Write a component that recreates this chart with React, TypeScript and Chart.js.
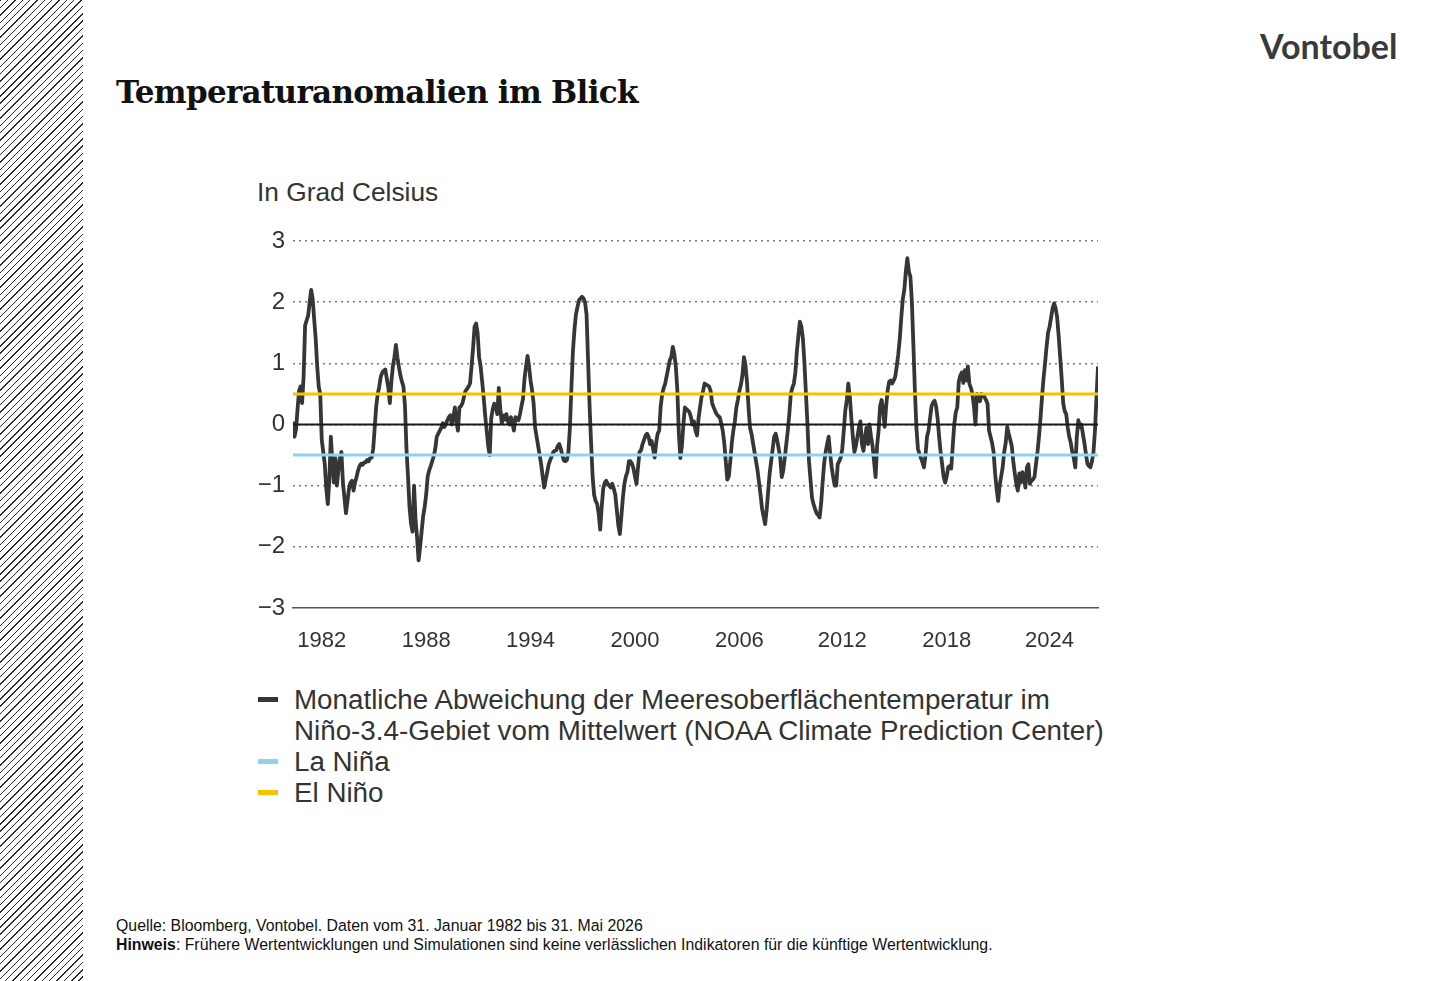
import { useEffect, useRef } from "react";
import { Chart, registerables } from "chart.js";

Chart.register(...registerables);

// ---- Data: monthly Niño-3.4 SST anomaly (°C), Jan 1982 – May 2026 ----
const Y1982 = [0.05, -0.2, -0.08, 0.25, 0.55, 0.62, 0.35, 0.78, 1.62, 1.7, 1.78, 2.0];
const Y1983 = [2.2, 2.05, 1.72, 1.4, 0.95, 0.62, 0.5, -0.25, -0.45, -0.65, -1.05, -1.3];
const Y1984 = [-0.9, -0.2, -0.6, -0.95, -0.55, -1.0, -0.75, -0.55, -0.45, -0.95, -1.2, -1.45];
const Y1985 = [-1.25, -1.05, -0.95, -0.92, -1.08, -0.95, -0.86, -0.75, -0.68, -0.64, -0.66, -0.62];
const Y1986 = [-0.62, -0.58, -0.6, -0.55, -0.54, -0.4, -0.05, 0.3, 0.5, 0.62, 0.78, 0.85];
const Y1987 = [0.88, 0.9, 0.75, 0.6, 0.35, 0.7, 0.95, 1.1, 1.3, 1.1, 0.94, 0.8];
const Y1988 = [0.7, 0.62, 0.3, -0.4, -0.85, -1.35, -1.62, -1.75, -1.0, -1.55, -1.85, -2.22];
const Y1989 = [-2.0, -1.75, -1.5, -1.35, -1.15, -0.85, -0.75, -0.68, -0.6, -0.52, -0.4, -0.2];
const Y1990 = [-0.15, -0.1, -0.05, 0.02, -0.04, 0.0, 0.07, 0.12, 0.15, 0.0, 0.12, 0.28];
const Y1991 = [0.05, -0.1, 0.28, 0.3, 0.35, 0.45, 0.55, 0.58, 0.62, 0.67, 0.95, 1.25];
const Y1992 = [1.6, 1.65, 1.5, 1.1, 0.95, 0.7, 0.45, 0.15, -0.1, -0.35, -0.5, 0.1];
const Y1993 = [0.25, 0.34, 0.3, 0.17, 0.6, 0.25, 0.02, 0.15, 0.08, 0.17, 0.05, 0.0];
const Y1994 = [0.12, 0.02, -0.1, 0.12, 0.1, 0.07, 0.17, 0.3, 0.42, 0.75, 0.95, 1.12];
const Y1995 = [0.95, 0.72, 0.56, 0.35, -0.05, -0.2, -0.35, -0.5, -0.65, -0.85, -1.03, -0.9];
const Y1996 = [-0.78, -0.65, -0.58, -0.52, -0.45, -0.43, -0.42, -0.35, -0.32, -0.4, -0.5, -0.59];
const Y1997 = [-0.6, -0.58, -0.45, -0.05, 0.6, 1.2, 1.55, 1.8, 1.92, 2.03, 2.06, 2.09];
const Y1998 = [2.06, 2.0, 1.8, 1.05, 0.3, -0.3, -0.85, -1.15, -1.25, -1.3, -1.45, -1.72];
const Y1999 = [-1.35, -1.05, -0.95, -0.92, -0.97, -1.0, -1.03, -0.97, -1.05, -1.15, -1.4, -1.65];
const Y2000 = [-1.79, -1.5, -1.2, -0.97, -0.85, -0.78, -0.6, -0.6, -0.64, -0.72, -0.85, -0.97];
const Y2001 = [-0.7, -0.45, -0.42, -0.32, -0.25, -0.18, -0.15, -0.2, -0.32, -0.27, -0.4, -0.54];
const Y2002 = [-0.3, -0.15, -0.1, 0.3, 0.5, 0.6, 0.67, 0.8, 0.92, 1.05, 1.1, 1.27];
const Y2003 = [1.15, 0.95, 0.56, -0.15, -0.55, -0.35, 0.0, 0.28, 0.25, 0.23, 0.2, 0.12];
const Y2004 = [0.0, 0.05, -0.1, -0.18, 0.1, 0.28, 0.45, 0.55, 0.67, 0.65, 0.64, 0.62];
const Y2005 = [0.55, 0.35, 0.28, 0.22, 0.17, 0.14, 0.12, 0.02, -0.1, -0.3, -0.6, -0.9];
const Y2006 = [-0.85, -0.6, -0.3, -0.1, 0.05, 0.28, 0.4, 0.55, 0.65, 0.8, 1.1, 0.98];
const Y2007 = [0.7, 0.3, -0.05, -0.15, -0.3, -0.45, -0.6, -0.75, -0.95, -1.15, -1.38, -1.5];
const Y2008 = [-1.63, -1.4, -1.1, -0.8, -0.6, -0.4, -0.2, -0.15, -0.26, -0.4, -0.54, -0.86];
const Y2009 = [-0.75, -0.55, -0.32, -0.1, 0.17, 0.5, 0.6, 0.67, 0.85, 1.2, 1.45, 1.68];
const Y2010 = [1.6, 1.4, 1.0, 0.5, 0.0, -0.6, -0.9, -1.2, -1.3, -1.38, -1.45, -1.48];
const Y2011 = [-1.52, -1.3, -0.95, -0.64, -0.45, -0.32, -0.2, -0.48, -0.7, -0.86, -1.0, -1.0];
const Y2012 = [-0.65, -0.6, -0.54, -0.4, -0.1, 0.23, 0.4, 0.67, 0.45, 0.1, -0.2, -0.45];
const Y2013 = [-0.35, -0.2, -0.05, 0.05, -0.32, -0.43, -0.2, -0.05, -0.32, 0.0, -0.2, -0.35];
const Y2014 = [-0.6, -0.86, -0.35, -0.1, 0.3, 0.4, 0.23, -0.04, 0.3, 0.56, 0.7, 0.72];
const Y2015 = [0.67, 0.72, 0.78, 0.95, 1.15, 1.4, 1.75, 2.05, 2.2, 2.5, 2.72, 2.5];
const Y2016 = [2.42, 2.0, 1.3, 0.55, -0.05, -0.4, -0.48, -0.55, -0.62, -0.7, -0.5, -0.2];
const Y2017 = [-0.1, 0.1, 0.3, 0.36, 0.39, 0.3, 0.1, -0.2, -0.45, -0.65, -0.86, -0.95];
const Y2018 = [-0.85, -0.7, -0.68, -0.72, -0.35, 0.0, 0.2, 0.28, 0.7, 0.8, 0.85, 0.68];
const Y2019 = [0.89, 0.72, 0.95, 0.67, 0.6, 0.5, 0.3, 0.0, 0.5, 0.42, 0.38, 0.5];
const Y2020 = [0.48, 0.45, 0.4, 0.34, -0.1, -0.2, -0.3, -0.45, -0.8, -1.05, -1.25, -1.0];
const Y2021 = [-0.85, -0.7, -0.45, -0.3, -0.04, -0.15, -0.25, -0.35, -0.6, -0.8, -0.97, -1.08];
const Y2022 = [-0.8, -0.95, -0.78, -0.85, -1.03, -0.7, -0.65, -0.97, -0.92, -0.9, -0.86, -0.65];
const Y2023 = [-0.45, -0.2, 0.1, 0.45, 0.75, 1.0, 1.27, 1.5, 1.6, 1.75, 1.9, 1.98];
const Y2024 = [1.9, 1.75, 1.45, 1.1, 0.75, 0.35, 0.22, 0.17, -0.05, -0.2, -0.3, -0.45];
const Y2025 = [-0.55, -0.7, -0.2, 0.07, -0.04, 0.0, -0.15, -0.3, -0.48, -0.64, -0.68, -0.7];
const Y2026 = [-0.6, -0.45, -0.1, 0.45, 0.95];

const NINO34 = [
  ...Y1982, ...Y1983, ...Y1984, ...Y1985, ...Y1986, ...Y1987, ...Y1988, ...Y1989,
  ...Y1990, ...Y1991, ...Y1992, ...Y1993, ...Y1994, ...Y1995, ...Y1996, ...Y1997,
  ...Y1998, ...Y1999, ...Y2000, ...Y2001, ...Y2002, ...Y2003, ...Y2004, ...Y2005,
  ...Y2006, ...Y2007, ...Y2008, ...Y2009, ...Y2010, ...Y2011, ...Y2012, ...Y2013,
  ...Y2014, ...Y2015, ...Y2016, ...Y2017, ...Y2018, ...Y2019, ...Y2020, ...Y2021,
  ...Y2022, ...Y2023, ...Y2024, ...Y2025, ...Y2026,
];

const EL_NINO = 0.5;
const LA_NINA = -0.5;
const ZERO_LINE = 0;

const Y_TICKS = [-3, -2, -1, 0, 1, 2, 3];
const X_TICK_LABELS = ["1982", "1988", "1994", "2000", "2006", "2012", "2018", "2024"];
// month index (from Jan 1982) at which each year label sits in the reference
const X_TICK_MONTHS = [19, 88, 157, 226, 295, 363, 432, 500];

const SERIES_LABEL_1 = "Monatliche Abweichung der Meeresoberflächentemperatur im";
const SERIES_LABEL_2 = "Niño-3.4-Gebiet vom Mittelwert (NOAA Climate Prediction Center)";
const LA_NINA_LABEL = "La Niña";
const EL_NINO_LABEL = "El Niño";

const C_SERIES = "#363636";
const C_ZERO = "#1a1a1a";
const C_YELLOW = "#F4C400";
const C_BLUE = "#8ED3E8";
const C_TEXT = "#333333";

export default function App() {
  const ref = useRef<HTMLCanvasElement>(null);

  useEffect(() => {
    const canvas = ref.current;
    if (!canvas) return;
    const last = NINO34.length - 1;
    const series = NINO34.map((v, i) => ({ x: i, y: v }));
    const flat = (v: number) => [
      { x: 0, y: v },
      { x: last, y: v },
    ];
    const chart = new Chart(canvas, {
      type: "line",
      data: {
        datasets: [
          { label: "0", data: flat(ZERO_LINE), borderColor: C_ZERO, borderWidth: 2.2, pointRadius: 0, order: 0 },
          { label: EL_NINO_LABEL, data: flat(EL_NINO), borderColor: C_YELLOW, borderWidth: 3, pointRadius: 0, order: 1 },
          { label: LA_NINA_LABEL, data: flat(LA_NINA), borderColor: C_BLUE, borderWidth: 3, pointRadius: 0, order: 2 },
          {
            label: SERIES_LABEL_1 + " " + SERIES_LABEL_2,
            data: series,
            borderColor: C_SERIES,
            borderWidth: 3.8,
            pointRadius: 0,
            tension: 0,
            borderJoinStyle: "round",
            order: 3,
          },
        ],
      },
      options: {
        animation: false,
        responsive: false,
        maintainAspectRatio: false,
        devicePixelRatio: 1,
        layout: { padding: { top: 71, right: 12, left: 0, bottom: 0 } },
        plugins: { legend: { display: false }, tooltip: { enabled: false }, title: { display: false } },
        scales: {
          x: {
            type: "linear",
            min: 0,
            max: last,
            afterBuildTicks: (s: any) => {
              s.ticks = X_TICK_MONTHS.map((v) => ({ value: v }));
            },
            afterFit: (s: any) => {
              s.height = 52;
            },
            ticks: {
              autoSkip: false,
              maxRotation: 0,
              padding: 20,
              color: C_TEXT,
              font: { family: "'Liberation Sans', Arial, sans-serif", size: 22 },
              callback: (v: any) => {
                const i = X_TICK_MONTHS.indexOf(Number(v));
                return i >= 0 ? X_TICK_LABELS[i] : "";
              },
            },
            grid: { display: false, drawTicks: false },
            border: { display: true, color: "#555555", width: 1.5 },
          },
          y: {
            min: -3,
            max: 3,
            afterBuildTicks: (s: any) => {
              s.ticks = Y_TICKS.map((v) => ({ value: v }));
            },
            afterFit: (s: any) => {
              s.width = 43;
            },
            ticks: {
              padding: 8,
              color: C_TEXT,
              font: { family: "'Liberation Sans', Arial, sans-serif", size: 24 },
              callback: (v: any) => (Number(v) < 0 ? "\u2212" + Math.abs(Number(v)) : String(v)),
            },
            grid: {
              drawTicks: false,
              lineWidth: 1.5,
              color: (ctx: any) => (ctx.tick && ctx.tick.value === -3 ? "rgba(0,0,0,0)" : "#7a7a7a"),
            },
            border: { display: false, dash: [2, 4] },
          },
        },
      },
    } as any);
    return () => chart.destroy();
  }, []);

  const sans = "'Liberation Sans', Arial, sans-serif";

  const legendRow = (color: string, lines: string[], top: number) => (
    <div style={{ position: "absolute", left: 258, top, fontFamily: sans, fontSize: 27.75, lineHeight: "31px", color: C_TEXT, whiteSpace: "nowrap" }}>
      <div style={{ position: "absolute", left: 0, top: 13, width: 20, height: 5, background: color }} />
      <div style={{ marginLeft: 36 }}>
        {lines.map((l, i) => (
          <div key={i}>{l}</div>
        ))}
      </div>
    </div>
  );

  return (
    <div style={{ position: "absolute", left: 0, top: 0, width: 1440, height: 981, background: "#ffffff", overflow: "hidden" }}>
      <div
        style={{
          position: "absolute",
          left: 0,
          top: 0,
          width: 83,
          height: 981,
          background: "repeating-linear-gradient(135deg, #2a2a2a 0px, #2a2a2a 1px, #ffffff 1px, #ffffff 5.2px)",
        }}
      />
      <div
        style={{
          position: "absolute",
          left: 116,
          top: 77,
          fontFamily: "'DejaVu Serif', serif",
          fontWeight: 700,
          fontSize: 31,
          letterSpacing: "-0.7px",
          lineHeight: 1,
          color: "#111",
          whiteSpace: "nowrap",
        }}
      >
        Temperaturanomalien im Blick
      </div>
      <div
        style={{
          position: "absolute",
          left: 1260,
          top: 29,
          fontFamily: "Lato, sans-serif",
          fontWeight: 700,
          fontSize: 34,
          lineHeight: 1,
          color: "#3a3a3a",
          whiteSpace: "nowrap",
        }}
      >
        Vontobel
      </div>
      <div style={{ position: "absolute", left: 257, top: 177, fontFamily: sans, fontSize: 26.3, lineHeight: "30px", color: C_TEXT, whiteSpace: "nowrap" }}>
        In Grad Celsius
      </div>
      <canvas ref={ref} width={860} height={490} style={{ position: "absolute", left: 250, top: 170, width: 860, height: 490 }} />
      {legendRow(C_SERIES, [SERIES_LABEL_1, SERIES_LABEL_2], 684)}
      {legendRow(C_BLUE, [LA_NINA_LABEL], 746)}
      {legendRow(C_YELLOW, [EL_NINO_LABEL], 777)}
      <div style={{ position: "absolute", left: 116, top: 916, fontFamily: sans, fontSize: 15.85, lineHeight: "19px", color: "#111", whiteSpace: "nowrap" }}>
        <div>Quelle: Bloomberg, Vontobel. Daten vom 31. Januar 1982 bis 31. Mai 2026</div>
        <div>
          <b>Hinweis</b>: Frühere Wertentwicklungen und Simulationen sind keine verlässlichen Indikatoren für die künftige Wertentwicklung.
        </div>
      </div>
    </div>
  );
}
